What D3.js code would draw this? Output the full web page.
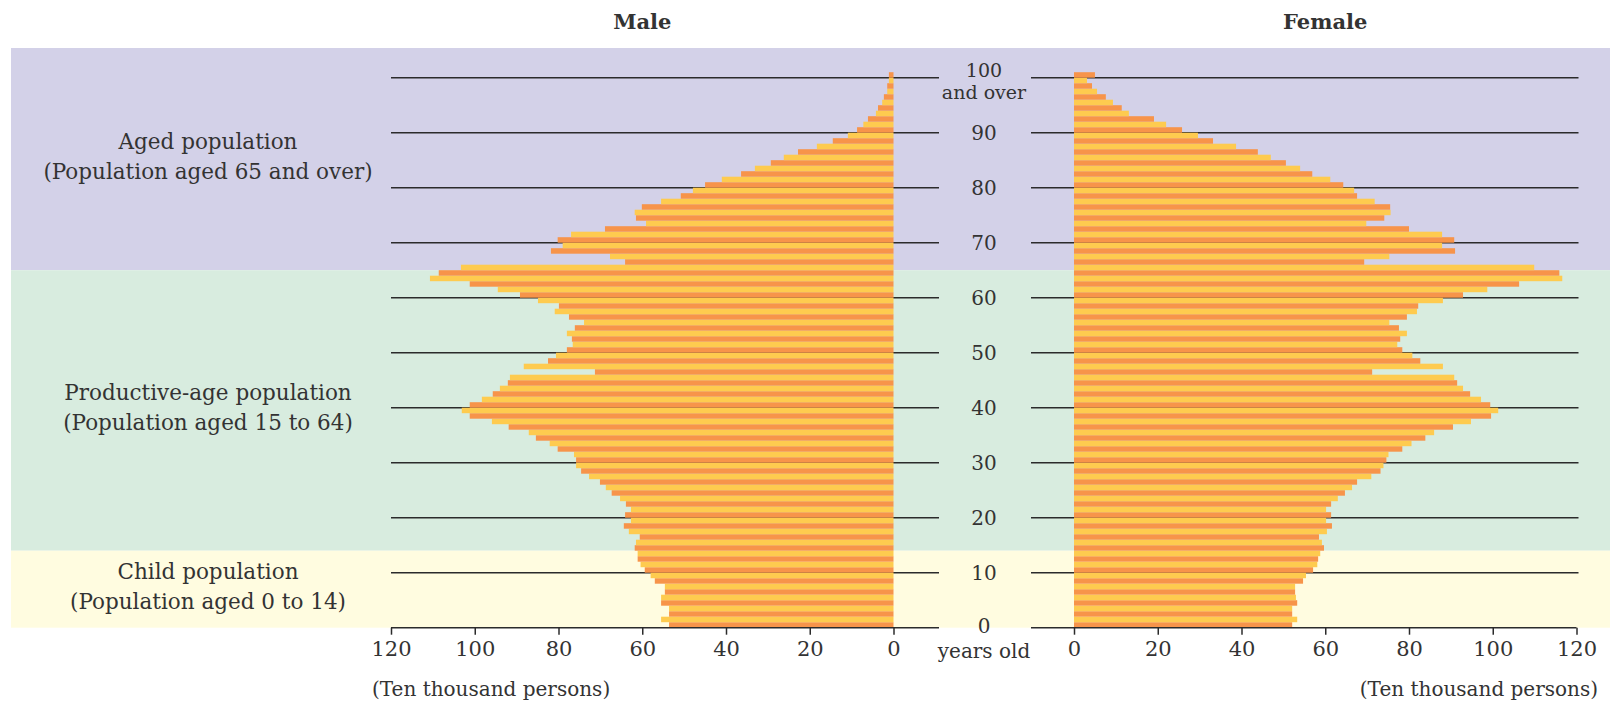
<!DOCTYPE html>
<html lang="en">

<head>
    <meta charset="UTF-8">
    <title>Population Pyramid</title>
    <script src="https://cdn.jsdelivr.net/npm/d3@7"></script>
    <style>
        body {
            margin: 0;
            background: #fff;
        }

        svg {
            display: block;
            font-family: "DejaVu Serif", serif;
        }

        text {
            fill: #333;
        }
    </style>
</head>

<body>
    <script>
        // population by single year of age, 0 .. 100 (100 = 100 and over), ten thousand persons
        const ages = d3.range(0, 101);

        const male = [
            53.6, 55.5, 53.6, 53.6, 55.5, 55.5, 54.6, 54.6, 57.0, 58.0,
            59.4, 60.4, 61.1, 61.1, 61.8, 61.5, 60.6, 63.2, 64.4, 62.7,
            64.1, 62.7, 63.9, 65.3, 67.3, 68.7, 70.1, 72.7, 74.6, 75.8,
            75.8, 76.3, 80.2, 82.1, 85.4, 87.1, 91.9, 95.9, 101.2, 103.1,
            101.2, 98.3, 95.7, 94.0, 92.1, 91.6, 71.3, 88.3, 82.5, 80.6,
            78.0, 76.6, 76.8, 78.0, 76.1, 73.9, 77.5, 80.9, 79.9, 84.9,
            89.2, 94.5, 101.2, 110.7, 108.6, 103.3, 64.1, 67.7, 81.8, 79.0,
            80.2, 77.0, 68.9, 59.1, 61.5, 61.8, 60.1, 55.5, 50.8, 47.9,
            45.0, 41.0, 36.4, 33.1, 29.3, 26.2, 22.8, 18.3, 14.5, 10.9,
            8.7, 7.2, 6.1, 4.2, 3.7, 2.7, 2.3, 1.5, 1.5, 1.1,
            1.1
        ];

        const female = [
            52.1, 53.3, 52.1, 52.1, 53.3, 53.0, 52.8, 52.8, 54.7, 55.4,
            57.1, 58.1, 58.3, 58.8, 59.7, 59.2, 58.5, 60.4, 61.6, 60.2,
            61.4, 60.2, 61.4, 63.0, 64.7, 66.4, 67.6, 71.0, 73.2, 73.9,
            74.6, 75.1, 78.4, 80.6, 83.9, 86.0, 90.5, 94.8, 99.6, 101.3,
            99.4, 97.2, 94.6, 92.9, 91.5, 90.8, 71.2, 88.1, 82.7, 80.8,
            78.4, 77.2, 77.9, 79.5, 77.6, 75.3, 79.5, 81.9, 82.2, 88.1,
            92.9, 98.7, 106.3, 116.6, 115.9, 109.9, 69.3, 75.3, 91.0, 87.9,
            90.8, 87.9, 80.0, 69.8, 74.1, 75.6, 75.5, 71.8, 67.6, 66.9,
            64.3, 61.2, 56.9, 54.0, 50.6, 47.0, 43.9, 38.7, 33.2, 29.6,
            25.8, 22.0, 19.1, 13.1, 11.4, 9.3, 7.6, 5.5, 4.3, 3.1,
            5.0
        ];

        const ageTicks = [0, 10, 20, 30, 40, 50, 60, 70, 80, 90, 100];
        const valueTicks = [0, 20, 40, 60, 80, 100, 120];

        // age bands: [from, to, label line 1, label line 2]
        const bands = [
            [65, 105.4, "Aged population", "(Population aged 65 and over)"],
            [14, 65, "Productive-age population", "(Population aged 15 to 64)"],
            [0, 14, "Child population", "(Population aged 0 to 14)"]
        ];
        const bandColors = ["#d3d1e8", "#d8ecdf", "#fffce0"];
        const barColors = ["#f7944a", "#fecb4f"];

        const width = 1610
        const height = 703

        let svg = d3.select("body")
            .append("svg")
            .attr("width", width)
            .attr("height", height);

        const yscale = d3.scaleLinear()
            .domain([0, 101])
            .range([627.7, 72.2]);

        const xMale = d3.scaleLinear()
            .domain([0, 120])
            .range([893.5, 391]);

        const xFemale = d3.scaleLinear()
            .domain([0, 120])
            .range([1074, 1576.5]);

        const centerX = 984;

        // background bands
        svg.selectAll(".band")
            .data(bands)
            .enter()
            .append("rect")
            .attr("x", 11)
            .attr("width", width - 11)
            .attr("y", d => yscale(d[1]))
            .attr("height", d => yscale(d[0]) - yscale(d[1]))
            .attr("fill", (d, i) => bandColors[i]);

        // band labels
        let labels = svg.selectAll(".bandlabel")
            .data(bands)
            .enter()
            .append("text")
            .attr("text-anchor", "middle")
            .style("font-size", "21.5px");
        labels.append("tspan")
            .attr("x", 208)
            .attr("y", d => yscale((d[0] + d[1]) / 2) - 10)
            .text(d => d[2]);
        labels.append("tspan")
            .attr("x", 208)
            .attr("dy", 30)
            .text(d => d[3]);

        // grid lines
        svg.selectAll(".gridM")
            .data(ageTicks.slice(1))
            .enter()
            .append("line")
            .attr("x1", xMale(120))
            .attr("x2", 939)
            .attr("y1", d => yscale(d))
            .attr("y2", d => yscale(d))
            .attr("stroke", "#2b2b2b")
            .attr("stroke-width", 1.5);

        svg.selectAll(".gridF")
            .data(ageTicks.slice(1))
            .enter()
            .append("line")
            .attr("x1", 1031)
            .attr("x2", xFemale(120) + 2)
            .attr("y1", d => yscale(d))
            .attr("y2", d => yscale(d))
            .attr("stroke", "#2b2b2b")
            .attr("stroke-width", 1.5);

        // bars
        svg.selectAll(".barM")
            .data(ages)
            .enter()
            .append("rect")
            .attr("x", d => xMale(male[d]))
            .attr("width", d => xMale(0) - xMale(male[d]))
            .attr("y", d => yscale(d + 1))
            .attr("height", d => yscale(d) - yscale(d + 1))
            .attr("fill", d => barColors[d % 2]);

        svg.selectAll(".barF")
            .data(ages)
            .enter()
            .append("rect")
            .attr("x", xFemale(0))
            .attr("width", d => xFemale(female[d]) - xFemale(0))
            .attr("y", d => yscale(d + 1))
            .attr("height", d => yscale(d) - yscale(d + 1))
            .attr("fill", d => barColors[d % 2]);

        // age labels
        svg.selectAll(".agelabel")
            .data(ageTicks)
            .enter()
            .append("text")
            .attr("x", centerX)
            .attr("y", d => d == 100 ? yscale(d) - 0.5 : (d == 0 ? yscale(d) + 5 : yscale(d) + 7))
            .attr("text-anchor", "middle")
            .style("font-size", d => d == 100 ? "19px" : "20px")
            .text(d => d);

        svg.append("text")
            .attr("x", centerX)
            .attr("y", yscale(100) + 21.5)
            .attr("text-anchor", "middle")
            .style("font-size", "19px")
            .text("and over");

        svg.append("text")
            .attr("x", centerX)
            .attr("y", 658)
            .attr("text-anchor", "middle")
            .style("font-size", "20px")
            .text("years old");

        // x axes
        svg.append("line")
            .attr("x1", xMale(120)).attr("x2", 939)
            .attr("y1", yscale(0)).attr("y2", yscale(0))
            .attr("stroke", "#2b2b2b").attr("stroke-width", 1.5);
        svg.append("line")
            .attr("x1", 1031).attr("x2", xFemale(120))
            .attr("y1", yscale(0)).attr("y2", yscale(0))
            .attr("stroke", "#2b2b2b").attr("stroke-width", 1.5);

        let axisM = svg.append("g")
            .attr("transform", `translate(0,${yscale(0)})`)
            .call(d3.axisBottom(xMale).tickValues(valueTicks).tickSize(7).tickPadding(6));
        let axisF = svg.append("g")
            .attr("transform", `translate(0,${yscale(0)})`)
            .call(d3.axisBottom(xFemale).tickValues(valueTicks).tickSize(7).tickPadding(6));

        [axisM, axisF].forEach(a => {
            a.select(".domain").remove();
            a.selectAll(".tick line").attr("stroke", "#2b2b2b").attr("stroke-width", 1.5);
            a.selectAll(".tick text")
                .style("font-family", "DejaVu Serif, serif")
                .style("font-size", "21px")
                .attr("fill", "#333");
        });

        // units
        svg.append("text")
            .attr("x", 372).attr("y", 696)
            .style("font-size", "20px")
            .text("(Ten thousand persons)");
        svg.append("text")
            .attr("x", 1598).attr("y", 696)
            .attr("text-anchor", "end")
            .style("font-size", "20px")
            .text("(Ten thousand persons)");

        // titles
        svg.append("text")
            .attr("x", (xMale(0) + xMale(120)) / 2).attr("y", 29)
            .attr("text-anchor", "middle")
            .style("font-size", "21px").style("font-weight", "bold")
            .text("Male");
        svg.append("text")
            .attr("x", (xFemale(0) + xFemale(120)) / 2).attr("y", 29)
            .attr("text-anchor", "middle")
            .style("font-size", "21px").style("font-weight", "bold")
            .text("Female");
    </script>
</body>

</html>
